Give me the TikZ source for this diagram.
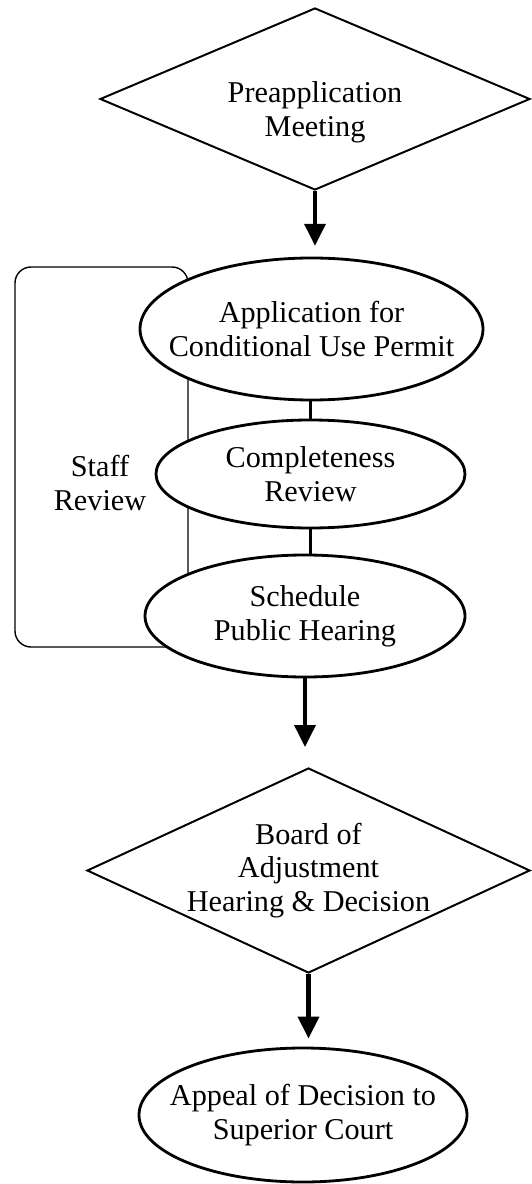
\documentclass[tikz,border=0pt]{standalone}
\usepackage{fontspec}
\setmainfont{Liberation Serif}
\usetikzlibrary{shapes.geometric}
\usetikzlibrary{arrows.meta}

\begin{document}
\begin{tikzpicture}[
decision/.style={diamond, draw, line width=1.4pt, inner sep=-0.1cm,
  align=center, font=\fontsize{21.5}{24}\selectfont},
stage/.style={ellipse, draw, line width=2pt, fill=white, inner xsep=-0.6cm,
  inner ysep=0pt, align=center, font=\fontsize{21.5}{24}\selectfont},
flow/.style={line width=3pt, -{Triangle[length=0.55cm,width=0.52cm]}},
link/.style={line width=2.5pt}]
\useasboundingbox (0,0) rectangle (13.275,-29.6);
\node (staffbox) [draw, line width=1pt, rounded corners=0.4cm,
  minimum width=4.325cm, minimum height=9.5cm] at (2.5375,-11.425) {};
\node (staff) [align=center, font=\fontsize{21.5}{24}\selectfont]
  at (2.5,-12.075) {Staff\\Review};
\node (pre) [decision, shape aspect=2.36, minimum width=10.75cm,
  minimum height=4.55cm] at (7.875,-2.475)
  {\rule{0pt}{1.2cm}Preapplication\\Meeting};
\node (app) [stage, minimum width=8.575cm, minimum height=3.55cm]
  at (7.7875,-8.225) {Application for\\Conditional Use Permit};
\node (comp) [stage, minimum width=7.725cm, minimum height=2.7cm]
  at (7.7625,-11.85) {Completeness\\Review};
\node (sched) [stage, minimum width=8cm, minimum height=3.05cm]
  at (7.625,-15.4) {Schedule\\Public Hearing};
\node (board) [decision, shape aspect=2.16, minimum width=11.075cm,
  minimum height=5.125cm] at (7.7125,-21.7625)
  {Board of\\Adjustment\\Hearing \& Decision};
\node (appeal) [stage, minimum width=8.2cm, minimum height=3.35cm]
  at (7.575,-27.875) {Appeal of Decision to\\Superior Court};
\draw [flow, shorten >=0.27cm] (pre.south) -- (pre.south |- app.north);
\draw [link] (comp.north |- app.south) -- (comp.north);
\draw [link] (comp.south) -- (comp.south |- sched.north);
\draw [flow, shorten >=0.5cm] (sched.south) -- (sched.south |- board.north);
\draw [flow, shorten >=0.2cm] (board.south) -- (board.south |- appeal.north);
\end{tikzpicture}
\end{document}
